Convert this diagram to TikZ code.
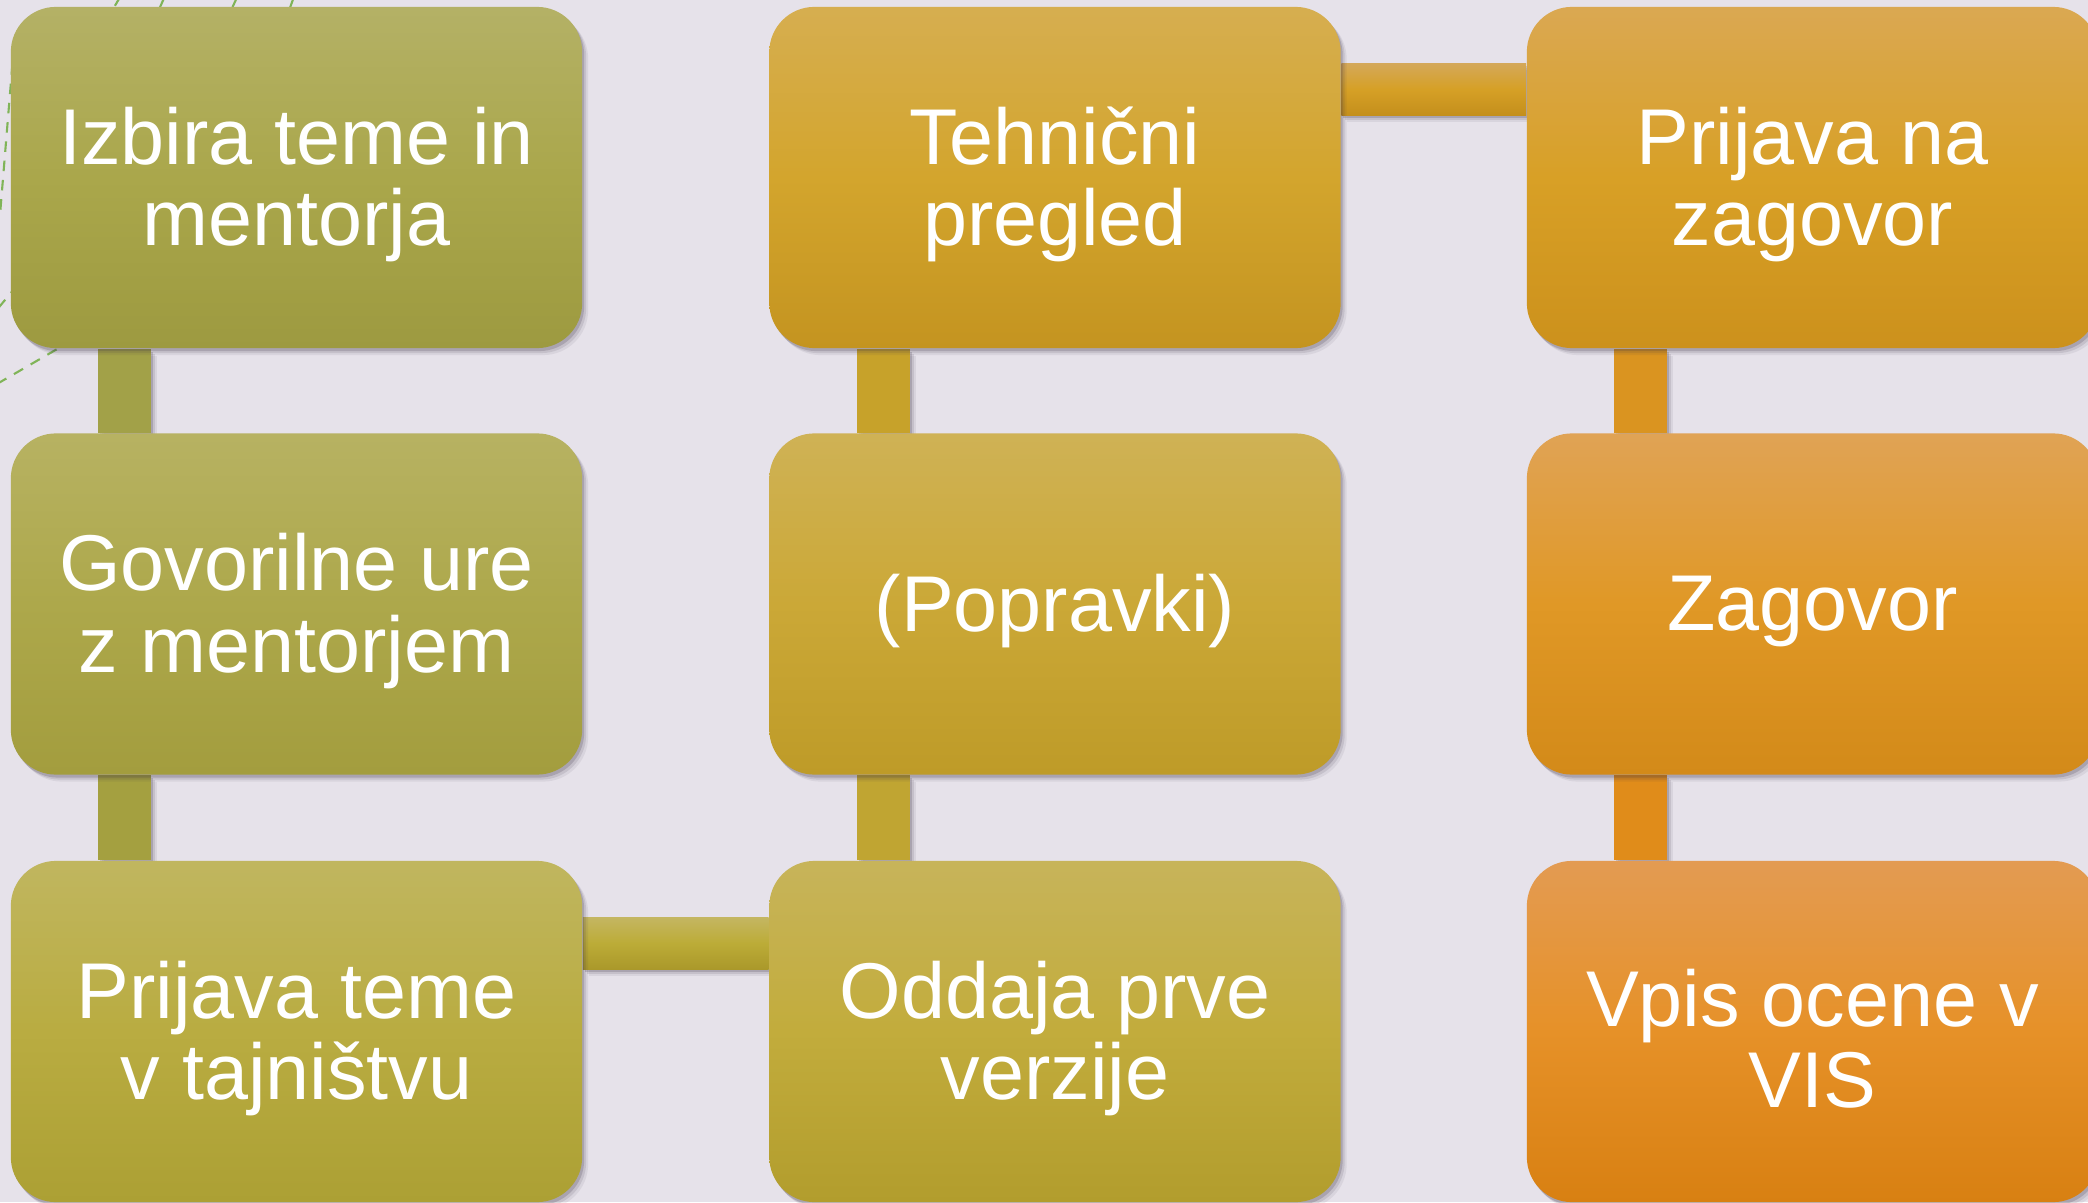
\documentclass[tikz,border=0pt]{standalone}
\usepackage{fontspec}
\setmainfont{Liberation Sans}
\usetikzlibrary{shadows}
\pgfdeclarelayer{deco}
\pgfdeclarelayer{conn}
\pgfsetlayers{deco,conn,main}

\definecolor{bgc}{RGB}{230,226,234}
\definecolor{decoc}{RGB}{128,180,88}
\definecolor{shc}{RGB}{60,50,70}
% boxes: top / middle / bottom
\definecolor{b1t}{RGB}{180,177,102}\definecolor{b1m}{RGB}{170,167,75}\definecolor{b1b}{RGB}{157,154,64}
\definecolor{b2t}{RGB}{183,178,98}\definecolor{b2m}{RGB}{173,168,75}\definecolor{b2b}{RGB}{163,157,62}
\definecolor{b3t}{RGB}{192,182,95}\definecolor{b3m}{RGB}{185,172,65}\definecolor{b3b}{RGB}{172,160,52}
\definecolor{b4t}{RGB}{199,180,90}\definecolor{b4m}{RGB}{194,172,60}\definecolor{b4b}{RGB}{178,157,45}
\definecolor{b5t}{RGB}{207,178,85}\definecolor{b5m}{RGB}{203,168,55}\definecolor{b5b}{RGB}{190,155,40}
\definecolor{b6t}{RGB}{214,174,80}\definecolor{b6m}{RGB}{211,165,45}\definecolor{b6b}{RGB}{196,148,32}
\definecolor{b7t}{RGB}{218,168,82}\definecolor{b7m}{RGB}{216,160,38}\definecolor{b7b}{RGB}{204,145,28}
\definecolor{b8t}{RGB}{224,163,85}\definecolor{b8m}{RGB}{224,152,38}\definecolor{b8b}{RGB}{211,138,25}
\definecolor{b9t}{RGB}{227,155,82}\definecolor{b9m}{RGB}{230,145,40}\definecolor{b9b}{RGB}{216,128,18}
% connectors
\definecolor{h1t}{RGB}{212,168,90}\definecolor{h1m}{RGB}{214,160,38}\definecolor{h1b}{RGB}{196,143,28}
\definecolor{h3t}{RGB}{196,182,98}\definecolor{h3m}{RGB}{188,172,55}\definecolor{h3b}{RGB}{170,152,42}
\definecolor{v1a}{RGB}{162,161,72}\definecolor{v1b}{RGB}{164,160,64}
\definecolor{v2a}{RGB}{199,162,42}\definecolor{v2b}{RGB}{192,165,50}
\definecolor{v3a}{RGB}{218,148,32}\definecolor{v3b}{RGB}{224,140,26}

\tikzset{
  boxshadow/.style={
    drop shadow={shadow xshift=0.06cm, shadow yshift=-0.07cm, opacity=0.08, fill=shc},
    drop shadow={shadow xshift=0.04cm, shadow yshift=-0.05cm, opacity=0.12, fill=shc},
    drop shadow={shadow xshift=0.02cm, shadow yshift=-0.03cm, opacity=0.2, fill=shc}},
  stepbox/.style={rectangle, rounded corners=0.45cm, minimum width=5.71cm,
    minimum height=3.41cm, inner sep=0pt, boxshadow},
  steptext/.style={inner sep=0pt, text=white, align=center,
    font=\fontsize{22.5}{23.2}\selectfont},
  shadeset/.style n args={3}{top color=#1, bottom color=#3, middle color=#2},
  decoline/.style={draw=decoc, line width=0.6pt, dash pattern=on 3pt off 2.5pt},
  vconn/.style={boxshadow},
}

\begin{document}
\begin{tikzpicture}[x=0.01cm,y=0.01cm]
\useasboundingbox (0,0) rectangle (2088,1202);
\begin{pgfonlayer}{deco}
  \fill[bgc] (0,0) rectangle (2088,1202);
  \draw[decoline] (130,1222) -- (95,1162);
  \draw[decoline] (172,1222) -- (150,1172);
  \draw[decoline] (245,1222) -- (222,1172);
  \draw[decoline] (300,1222) -- (282,1172);
  \draw[decoline] (14,1157) -- (0,987);
  \draw[decoline] (30,932) -- (-10,884);
  \draw[decoline] (90,872) -- (-10,814);
\end{pgfonlayer}

\node[stepbox, shadeset={b1t}{b1m}{b1b}] (b1) at (296.5,1024.5) {};
\node[stepbox, shadeset={b2t}{b2m}{b2b}] (b2) at (296.5,598) {};
\node[stepbox, shadeset={b3t}{b3m}{b3b}] (b3) at (296.5,170.5) {};
\node[stepbox, shadeset={b4t}{b4m}{b4b}] (b4) at (1055,170.5) {};
\node[stepbox, shadeset={b5t}{b5m}{b5b}] (b5) at (1055,598) {};
\node[stepbox, shadeset={b6t}{b6m}{b6b}] (b6) at (1055,1024.5) {};
\node[stepbox, shadeset={b7t}{b7m}{b7b}] (b7) at (1812.5,1024.5) {};
\node[stepbox, shadeset={b8t}{b8m}{b8b}] (b8) at (1812.5,598) {};
\node[stepbox, shadeset={b9t}{b9m}{b9b}] (b9) at (1812.5,170.5) {};

\node[steptext] (t1) at ([yshift=-0.07cm]b1.center) {Izbira teme in\\mentorja};
\node[steptext] (t2) at ([yshift=-0.07cm]b2.center) {Govorilne ure\\z mentorjem};
\node[steptext] (t3) at ([yshift=-0.07cm]b3.center) {Prijava teme\\v tajništvu};
\node[steptext] (t4) at ([yshift=-0.07cm]b4.center) {Oddaja prve\\verzije};
\node[steptext] (t5) at ([yshift=-0.07cm]b5.center) {(Popravki)};
\node[steptext] (t6) at ([yshift=-0.07cm]b6.center) {Tehnični\\pregled};
\node[steptext] (t7) at ([yshift=-0.07cm]b7.center) {Prijava na\\zagovor};
\node[steptext] (t8) at ([yshift=-0.07cm]b8.center) {Zagovor};
\node[steptext] (t9) at ([yshift=-0.07cm]b9.center) {Vpis ocene v\\VIS};

\begin{pgfonlayer}{conn}
  % vertical connectors
  \fill[v1a, vconn] ([xshift=0.88cm]b1.south west) rectangle ([xshift=1.41cm]b2.north west);
  \fill[v1b, vconn] ([xshift=0.88cm]b2.south west) rectangle ([xshift=1.41cm]b3.north west);
  \fill[v2a, vconn] ([xshift=0.88cm]b6.south west) rectangle ([xshift=1.41cm]b5.north west);
  \fill[v2b, vconn] ([xshift=0.88cm]b5.south west) rectangle ([xshift=1.41cm]b4.north west);
  \fill[v3a, vconn] ([xshift=0.88cm]b7.south west) rectangle ([xshift=1.41cm]b8.north west);
  \fill[v3b, vconn] ([xshift=0.88cm]b8.south west) rectangle ([xshift=1.41cm]b9.north west);
  % horizontal connectors
  \shade[shadeset={h3t}{h3m}{h3b}, vconn] ([yshift=-0.57cm]b3.north east) rectangle ([yshift=-1.09cm]b4.north west);
  \shade[shadeset={h1t}{h1m}{h1b}, vconn] ([yshift=-0.57cm]b6.north east) rectangle ([yshift=-1.09cm]b7.north west);
\end{pgfonlayer}
\end{tikzpicture}
\end{document}
